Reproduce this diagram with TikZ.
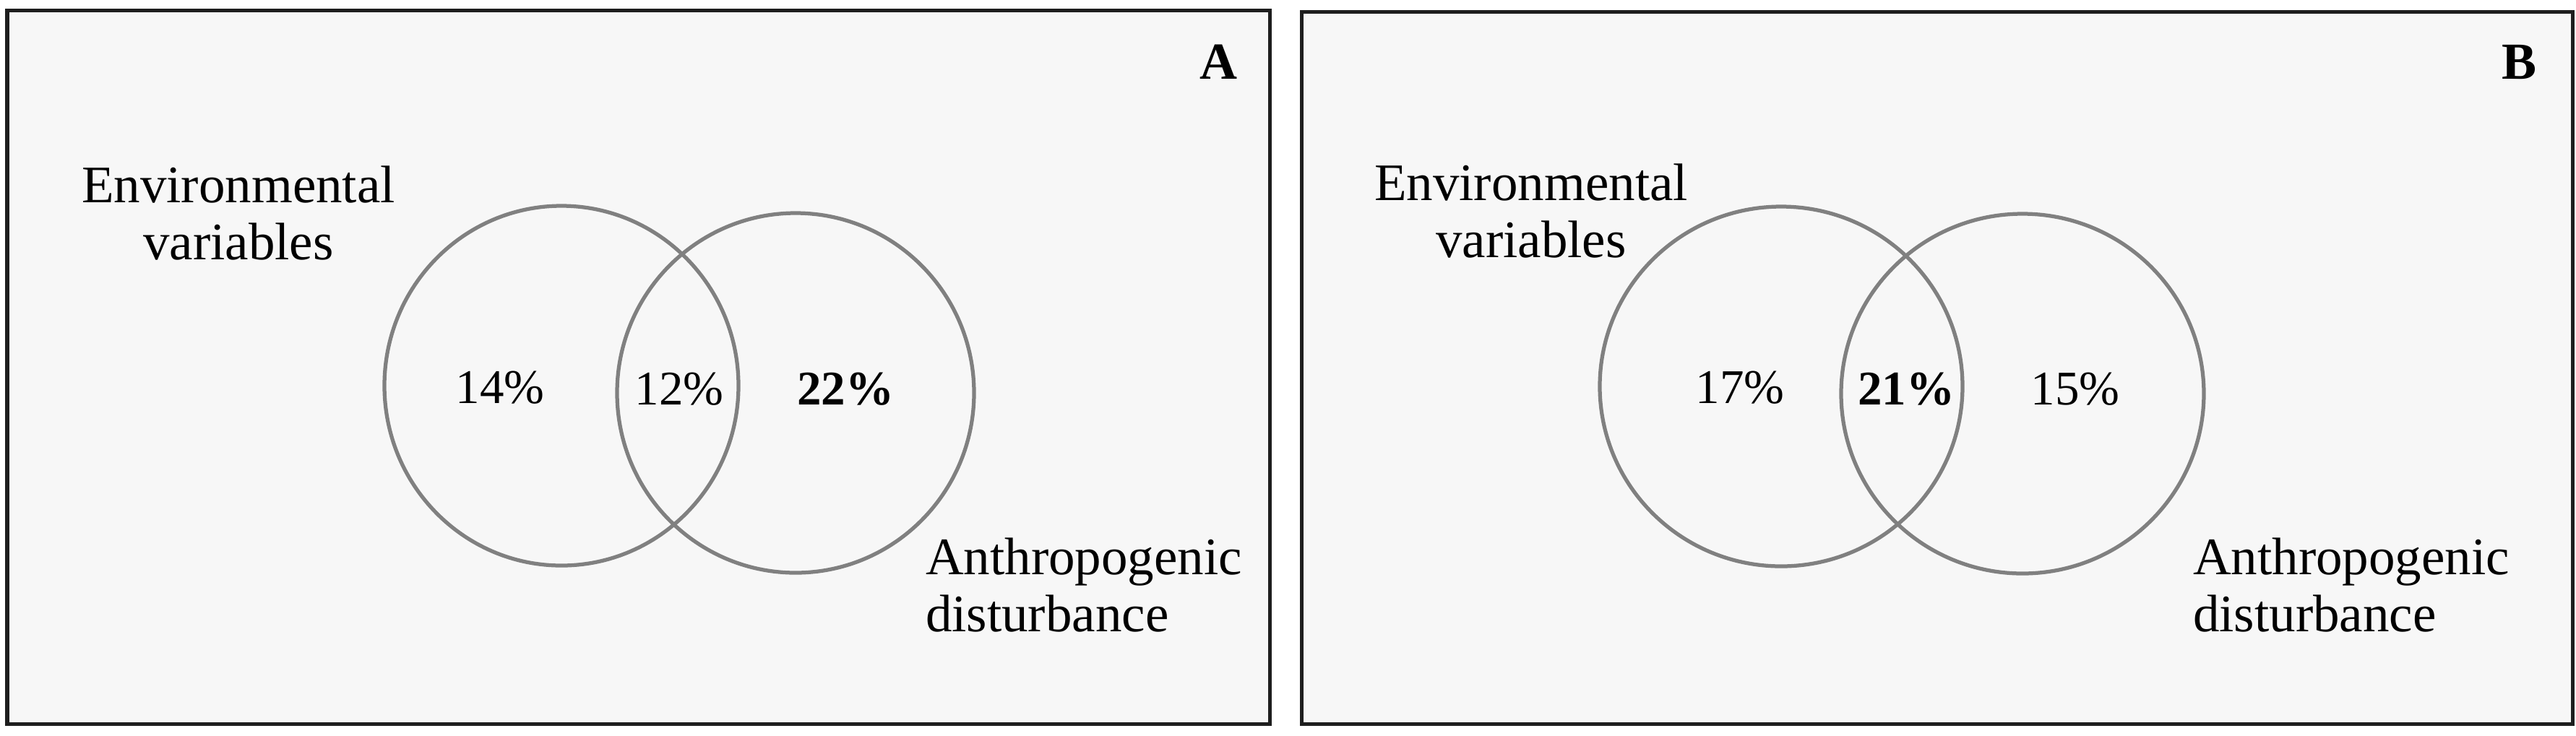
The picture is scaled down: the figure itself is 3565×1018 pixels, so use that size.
\documentclass[tikz,border=0pt]{standalone}
\usepackage{fontspec}
\setmainfont{Liberation Serif}
\definecolor{panelbg}{HTML}{F7F7F7}
\definecolor{framec}{HTML}{1E1E1E}
\definecolor{vennc}{HTML}{808080}
\begin{document}
\begin{tikzpicture}[x=0.2pt,y=-0.2pt,
  panel/.style={draw=framec, fill=panelbg, line width=1pt},
  venn/.style={draw=vennc, line width=1.05pt},
  lbl/.style={font=\fontsize{14.6}{15.8}\selectfont, inner sep=0pt},
  pct/.style={font=\fontsize{13.4}{14}\selectfont, inner sep=0pt, anchor=base},
  tag/.style={font=\fontsize{14.4}{15}\selectfont\bfseries, inner sep=0pt, anchor=base}]
\useasboundingbox (0,0) rectangle (3565,1018);
\fill[white] (0,0) rectangle (3565,1018);
% panel A
\draw[panel] (10,14) rectangle (1757,1002);
\draw[venn] (777,534) ellipse [x radius=245, y radius=249];
\draw[venn] (1101,544) ellipse [x radius=247, y radius=249];
\node[tag] (tA) at (1686,109) {A};
\node[lbl, align=center, anchor=north] (envA) at (330,229) {Environmental\\variables};
\node[lbl, align=left, anchor=north west] (antA) at (1280,744) {Anthropogenic\\disturbance};
\node[pct] (pA1) at (692,558) {14\%};
\node[pct] (pA2) at (940,560) {12\%};
\node[pct] (pA3) at (1170,560) {\textbf{22\%}};
% panel B
\draw[panel] (1801,16) rectangle (3560,1002);
\draw[venn] (2465,535) ellipse [x radius=251, y radius=249];
\draw[venn] (2799,545) ellipse [x radius=251, y radius=249];
\node[tag] (tB) at (3486,109) {B};
\node[lbl, align=center, anchor=north] (envB) at (2119,226) {Environmental\\variables};
\node[lbl, align=left, anchor=north west] (antB) at (3034,744) {Anthropogenic\\disturbance};
\node[pct] (pB1) at (2408,558) {17\%};
\node[pct] (pB2) at (2638,560) {\textbf{21\%}};
\node[pct] (pB3) at (2872,560) {15\%};
\end{tikzpicture}
\end{document}
